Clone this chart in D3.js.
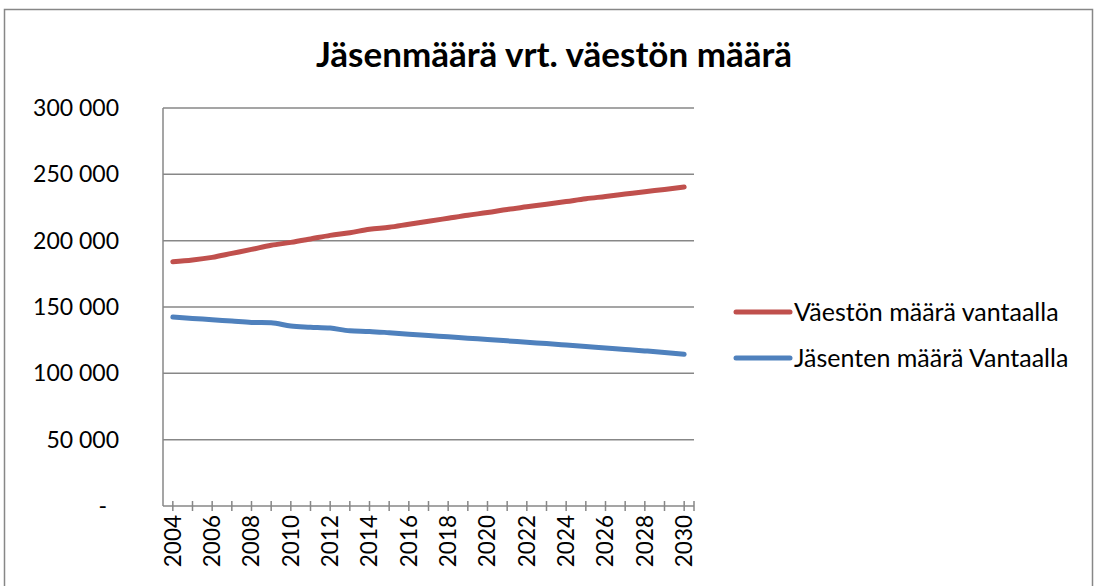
<!DOCTYPE html>
<html>
<head>
<meta charset="utf-8">
<script src="https://cdn.jsdelivr.net/npm/d3@7"></script>
<style>
  body { margin: 0; background: #fff; }
  svg { font-family: Lato, "Open Sans", sans-serif; }
</style>
</head>
<body>
<svg width="1099" height="586"></svg>
<script>
// chart data
var years = d3.range(2004, 2031).map(String);
var vaesto = [184100, 185400, 187400, 190400, 193400, 196500, 198700, 201300, 204000, 206000,
              208600, 210100, 212400, 214600, 216900, 219200, 221200, 223500, 225500, 227500,
              229500, 231600, 233300, 235100, 236900, 238600, 240400];
var jasenet = [142400, 141400, 140400, 139400, 138400, 138100, 135600, 134800, 134100, 132100,
               131600, 130600, 129500, 128500, 127500, 126500, 125500, 124500, 123400, 122400,
               121300, 120200, 119100, 118000, 116900, 115700, 114300];
var yTicks = [0, 50000, 100000, 150000, 200000, 250000, 300000];
var seriesNames = ["Väestön määrä vantaalla", "Jäsenten määrä Vantaalla"];
var seriesColors = ["#C0504D", "#4F81BD"];

var svg = d3.select("svg");
var plot = {left: 163, right: 694, top: 108, bottom: 506};
var gray = "#878787";

// outer chart border
svg.append("rect")
    .attr("x", 4.5).attr("y", 9.5)
    .attr("width", 1088).attr("height", 600)
    .attr("fill", "none").attr("stroke", gray).attr("stroke-width", 1.5);

svg.append("text")
    .attr("x", 554).attr("y", 67)
    .attr("text-anchor", "middle")
    .attr("font-size", 35).attr("font-weight", "bold")
    .text("Jäsenmäärä vrt. väestön määrä");

var x = d3.scalePoint().domain(years).range([plot.left, plot.right]).padding(0.5);
var y = d3.scaleLinear().domain([0, 300000]).range([plot.bottom, plot.top]);

// gridlines
svg.append("g").selectAll("line")
    .data(yTicks.filter(function(d) { return d > 0; }))
    .enter().append("line")
    .attr("x1", plot.left).attr("x2", plot.right)
    .attr("y1", function(d) { return y(d); })
    .attr("y2", function(d) { return y(d); })
    .attr("stroke", gray).attr("stroke-width", 1.5);

// y labels
var fmt = function(d) {
  if (d === 0) return "-";
  return d3.format(",")(d).replace(/,/g, " ");
};
svg.append("g").selectAll("text")
    .data(yTicks).enter().append("text")
    .attr("x", function(d) { return d === 0 ? 107 : 119; })
    .attr("y", function(d) { return y(d); })
    .attr("dy", "0.35em")
    .attr("text-anchor", "end")
    .attr("font-size", 23)
    .text(fmt);

// axes lines
svg.append("line")
    .attr("x1", plot.left).attr("x2", plot.left)
    .attr("y1", plot.top).attr("y2", plot.bottom)
    .attr("stroke", gray).attr("stroke-width", 1.5);
svg.append("line")
    .attr("x1", plot.left).attr("x2", plot.right)
    .attr("y1", plot.bottom).attr("y2", plot.bottom)
    .attr("stroke", gray).attr("stroke-width", 1.5);

// x ticks at each category, plus the axis end
svg.append("g").selectAll("line")
    .data(years.map(function(d) { return x(d); }).concat([plot.right]))
    .enter().append("line")
    .attr("x1", function(d) { return d; }).attr("x2", function(d) { return d; })
    .attr("y1", plot.bottom - 5).attr("y2", plot.bottom + 5)
    .attr("stroke", gray).attr("stroke-width", 1.5);

svg.append("g").selectAll("text")
    .data(years.filter(function(d, i) { return i % 2 === 0; }))
    .enter().append("text")
    .attr("transform", function(d) { return "translate(" + x(d) + "," + (plot.bottom + 9) + ") rotate(-90)"; })
    .attr("dy", "0.35em")
    .attr("text-anchor", "end")
    .attr("font-size", 22.5)
    .text(function(d) { return d; });

// lines
var line = d3.line()
    .x(function(d, i) { return x(years[i]); })
    .y(function(d) { return y(d); })
    .curve(d3.curveMonotoneX);

[vaesto, jasenet].forEach(function(vals, i) {
  svg.append("path")
      .datum(vals)
      .attr("d", line)
      .attr("fill", "none")
      .attr("stroke", seriesColors[i])
      .attr("stroke-width", 5)
      .attr("stroke-linecap", "round")
      .attr("stroke-linejoin", "round");
});

// legend
var legend = svg.append("g").selectAll("g")
    .data(seriesNames).enter().append("g")
    .attr("transform", function(d, i) { return "translate(736," + (312 + i * 46) + ")"; });
legend.append("line")
    .attr("x1", 0).attr("x2", 54)
    .attr("stroke", function(d, i) { return seriesColors[i]; })
    .attr("stroke-width", 5).attr("stroke-linecap", "round");
legend.append("text")
    .attr("x", 58).attr("dy", "0.35em")
    .attr("font-size", 25)
    .text(function(d) { return d; });
</script>
</body>
</html>
